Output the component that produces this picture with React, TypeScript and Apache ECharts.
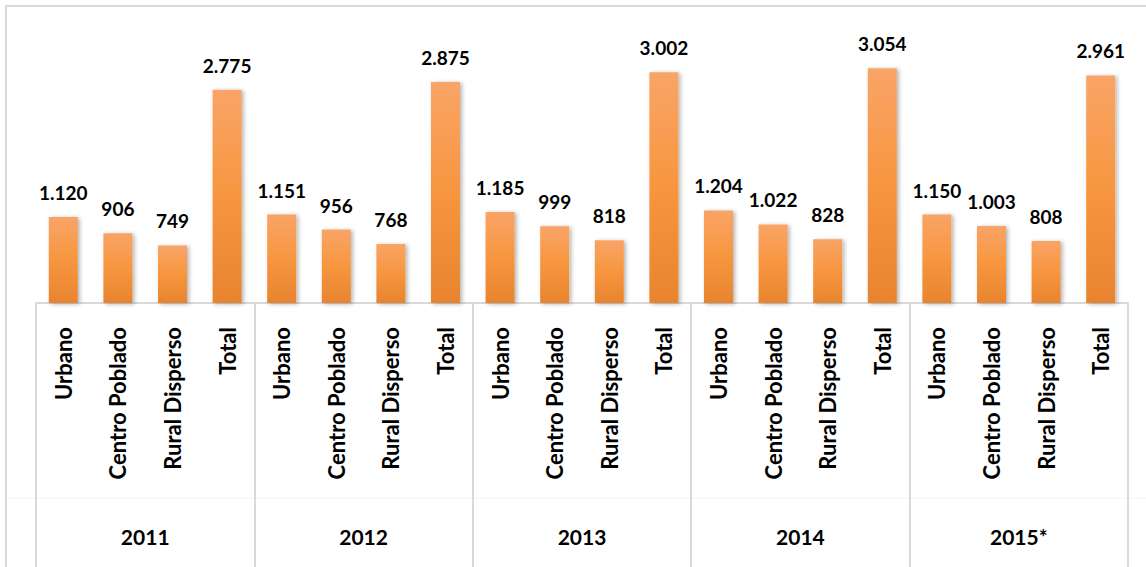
import React, { useEffect, useRef } from "react";
import * as echarts from "echarts";

const years = ["2011", "2012", "2013", "2014", "2015*"];
const zones = ["Urbano", "Centro Poblado", "Rural Disperso", "Total"];
const v2011 = [1120, 906, 749, 2775];
const v2012 = [1151, 956, 768, 2875];
const v2013 = [1185, 999, 818, 3002];
const v2014 = [1204, 1022, 828, 3054];
const v2015 = [1150, 1003, 808, 2961];

const fmt = (n: number) => String(n).replace(/\B(?=(\d{3})+(?!\d))/g, ".");

export default function App() {
  const ref = useRef<HTMLDivElement>(null);
  useEffect(() => {
    document.body.style.margin = "0";
    const chart = echarts.init(ref.current!, null, { renderer: "svg" });
    const allVals = [v2011, v2012, v2013, v2014, v2015];
    const cats: string[] = [];
    const vals: number[] = [];
    allVals.forEach((arr) => {
      arr.forEach((v, i) => {
        cats.push(zones[i]);
        vals.push(v);
      });
    });
    const font = "Lato, 'Noto Sans', sans-serif";
    chart.setOption({
      animation: false,
      backgroundColor: "#fff",
      grid: { left: 36, right: 18, top: 34, bottom: 264 },
      graphic: [
        {
          type: "rect",
          shape: { x: 6, y: 6, width: 1200, height: 620 },
          style: { fill: "none", stroke: "#D9D9D9", lineWidth: 2 },
          silent: true,
        },
        {
          type: "line",
          shape: { x1: 7, y1: 498, x2: 1146, y2: 498 },
          style: { stroke: "#F5F5F5", lineWidth: 1 },
          silent: true,
        },
      ],
      xAxis: [
        {
          type: "category",
          data: cats,
          position: "bottom",
          axisLine: { show: true, lineStyle: { color: "#D9D9D9", width: 2 } },
          axisTick: { show: false },
          axisLabel: {
            interval: 0,
            rotate: 90,
            margin: 24,
            color: "#000",
            fontWeight: "bold",
            fontSize: 22,
            fontFamily: font,
          },
        },
        {
          type: "category",
          data: years,
          position: "bottom",
          axisLine: { show: false },
          axisTick: {
            show: true,
            length: 270,
            lineStyle: { color: "#D9D9D9", width: 2 },
          },
          axisLabel: {
            interval: 0,
            margin: 223,
            color: "#000",
            fontWeight: "bold",
            fontSize: 21,
            fontFamily: font,
          },
        },
      ],
      yAxis: {
        type: "value",
        min: 0,
        max: 3500,
        show: false,
        splitLine: { show: false },
      },
      series: [
        {
          type: "bar",
          xAxisIndex: 0,
          data: vals,
          barWidth: 29,
          itemStyle: {
            color: new echarts.graphic.LinearGradient(0, 0, 0, 1, [
              { offset: 0, color: "#F9A467" },
              { offset: 0.5, color: "#F7963F" },
              { offset: 1, color: "#E8842F" },
            ]),
            shadowColor: "rgba(0,0,0,0.3)",
            shadowBlur: 4,
            shadowOffsetX: 2,
            shadowOffsetY: 1,
          },
          label: {
            show: true,
            position: "top",
            distance: 15,
            formatter: (p: any) => fmt(p.value),
            color: "#000",
            fontWeight: "bold",
            fontSize: 19,
            fontFamily: font,
          },
        },
      ],
    });
    return () => chart.dispose();
  }, []);
  return <div ref={ref} style={{ width: 1146, height: 567 }} />;
}
